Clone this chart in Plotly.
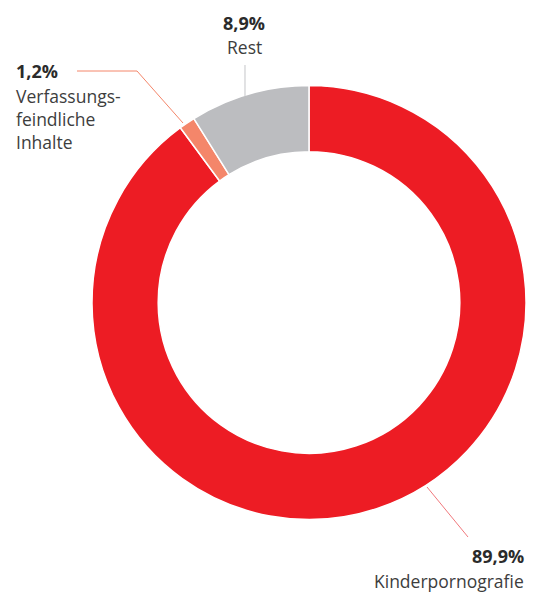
import plotly.graph_objects as go

# Seite hat 8px Rand -> Figur um 8px kleiner, Koordinaten versetzt
OFF = 8
W, H = 534 - OFF, 592 - OFF

# --- Daten ---
kategorien = ['Kinderpornografie', 'Verfassungsfeindliche Inhalte', 'Rest']
anteile = [89.9, 1.2, 8.9]
farben = ['#ED1C24', '#F4866A', '#BCBDC0']
prozent_labels = ['89,9%', '1,2%', '8,9%']
text_zeilen = [['Kinderpornografie'], ['Verfassungs-', 'feindliche', 'Inhalte'], ['Rest']]


def px(x):
    return (x - OFF) / W


def py(y):
    return 1 - (y - OFF) / H


fig = go.Figure(go.Pie(
    labels=kategorien,
    values=anteile,
    hole=0.695,
    sort=False,
    direction='clockwise',
    rotation=0,
    marker=dict(colors=farben, line=dict(color='white', width=1.5)),
    textinfo='none',
    hoverinfo='label+percent',
    domain=dict(x=[px(91.5), px(526.5)], y=[py(519.5), py(85.5)]),
    showlegend=False,
))

schrift = 'Open Sans, sans-serif'

# Beschriftungen: (Index, x, y Prozent, y erste Textzeile, Ausrichtung)
annots = [
    (0, 526, 556, 581, 'right'),
    (1, 14, 71, 96, 'left'),
    (2, 244, 23, 47, 'center'),
]
for i, x, yp, yt, align in annots:
    fig.add_annotation(
        x=px(x), y=py(yp), xref='paper', yref='paper',
        xanchor=align, yanchor='middle', showarrow=False,
        text=f"<b>{prozent_labels[i]}</b>",
        font=dict(family=schrift, size=18, color='#2b2b2b'),
    )
    for k, zeile in enumerate(text_zeilen[i]):
        fig.add_annotation(
            x=px(x), y=py(yt + 23 * k), xref='paper', yref='paper',
            xanchor=align, yanchor='middle', showarrow=False,
            text=zeile,
            font=dict(family=schrift, size=17.5, color='#3d3d3d'),
        )

# Verbindungslinien
linien = [
    ([(427, 487), (468, 537)], '#F0787C'),
    ([(77, 71), (137, 71), (183, 123)], '#F4866A'),
    ([(245, 65), (245, 96)], '#C4C5C8'),
]
for pts, col in linien:
    path = 'M ' + ' L '.join(f'{px(a):.5f},{py(b):.5f}' for a, b in pts)
    fig.add_shape(type='path', path=path, xref='paper', yref='paper',
                  line=dict(color=col, width=1))

fig.update_layout(
    width=W, height=H,
    margin=dict(l=0, r=0, t=0, b=0),
    paper_bgcolor='white',
    plot_bgcolor='white',
)

fig.write_html('out.html')
